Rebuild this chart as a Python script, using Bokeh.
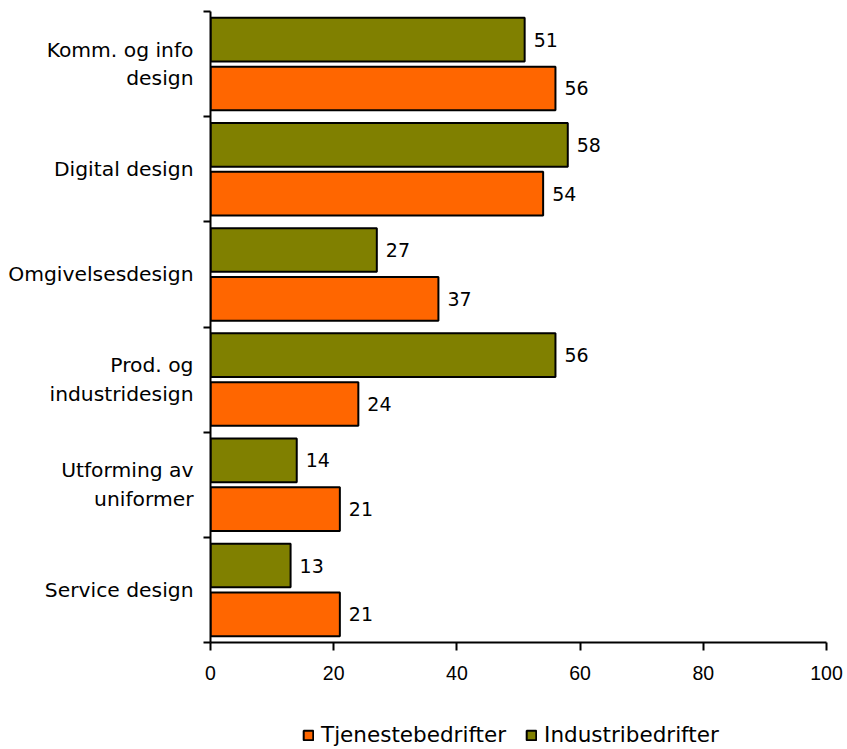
from bokeh.plotting import figure
from bokeh.models import (Range1d, FixedTicker, Legend, LegendItem, ColumnDataSource)
from bokeh.layouts import column
from bokeh.core.properties import value
from bokeh.embed import file_html
from bokeh.resources import INLINE

categories = ["Komm. og info\ndesign", "Digital design", "Omgivelsesdesign",
              "Prod. og\nindustridesign", "Utforming av\nuniformer", "Service design"]
industri = [51, 58, 27, 56, 14, 13]
tjeneste = [56, 54, 37, 24, 21, 21]
x_ticks = [0, 20, 40, 60, 80, 100]
series_names = ["Tjenestebedrifter", "Industribedrifter"]
colors = {"Tjenestebedrifter": "#FF6600", "Industribedrifter": "#808000"}

n = len(categories)
centers = [n - 0.5 - i for i in range(n)]
off = 0.232
bar_h = 0.415

src_ind = ColumnDataSource(dict(y=[c + off for c in centers], v=industri,
                                t=[str(v) for v in industri]))
src_tje = ColumnDataSource(dict(y=[c - off for c in centers], v=tjeneste,
                                t=[str(v) for v in tjeneste]))
sources = {"Tjenestebedrifter": src_tje, "Industribedrifter": src_ind}

p = figure(width=847, height=712, output_backend="svg", toolbar_location=None,
           x_range=Range1d(0, 100), y_range=Range1d(0, n),
           min_border_left=210, min_border_top=11, min_border_right=21,
           min_border_bottom=70)
p.outline_line_color = None
p.xgrid.visible = False
p.ygrid.visible = False

for name in ["Industribedrifter", "Tjenestebedrifter"]:
    p.hbar(y="y", right="v", left=0, height=bar_h, source=sources[name],
           fill_color=colors[name], line_color="black", line_width=2)

for s in (src_ind, src_tje):
    p.text(x="v", y="y", text="t", source=s, x_offset=9, text_baseline="middle",
           text_align="left", text_font=value("DejaVu Sans"),
           text_font_size="19px", text_color="black")

# x axis
xa = p.xaxis[0]
xa.ticker = FixedTicker(ticks=x_ticks)
xa.major_tick_out = 8
xa.major_tick_in = 0
xa.minor_tick_line_color = None
xa.axis_line_width = 2
xa.major_tick_line_width = 2
xa.axis_line_color = "black"
xa.major_label_text_font = "Liberation Sans"
xa.major_label_text_font_size = "19.5px"
xa.major_label_text_color = "black"
xa.major_label_standoff = 15

# y axis
ya = p.yaxis[0]
ya.ticker = FixedTicker(ticks=centers, minor_ticks=list(range(n + 1)))
ya.major_label_overrides = {c: lab for c, lab in zip(centers, categories)}
ya.major_tick_out = 0
ya.major_tick_in = 0
ya.major_tick_line_color = None
ya.minor_tick_out = 7
ya.minor_tick_in = 0
ya.minor_tick_line_width = 2
ya.axis_line_width = 2
ya.axis_line_color = "black"
ya.major_label_text_font = "DejaVu Sans"
ya.major_label_text_font_size = "20.3px"
ya.major_label_text_color = "black"
ya.major_label_text_align = "center"
ya.major_label_standoff = 10

# legend strip below the chart: legend-only renderers (NaN rows draw nothing)
pl = figure(width=847, height=37, output_backend="svg", toolbar_location=None,
            x_axis_type=None, y_axis_type=None, min_border=0,
            x_range=Range1d(0, 100), y_range=Range1d(0, n))
pl.outline_line_color = None
pl.xgrid.visible = False
pl.ygrid.visible = False
items = []
for name in series_names:
    key_src = ColumnDataSource(dict(y=[float("nan")], v=[float("nan")]))
    r = pl.hbar(y="y", right="v", left=0, height=bar_h, source=key_src,
                fill_color=colors[name], line_color="black", line_width=2)
    items.append(LegendItem(label=name, renderers=[r]))

legend = Legend(items=items, location=(92, 2), orientation="horizontal",
                glyph_width=12, glyph_height=12, label_standoff=7, spacing=19,
                padding=0, margin=0, border_line_color=None,
                background_fill_alpha=0,
                label_text_font="DejaVu Sans", label_text_font_size="21.5px",
                label_text_color="black", label_height=20)
pl.add_layout(legend, "center")

layout = column(p, pl, spacing=0)
open("out.html", "w").write(file_html(layout, INLINE))
